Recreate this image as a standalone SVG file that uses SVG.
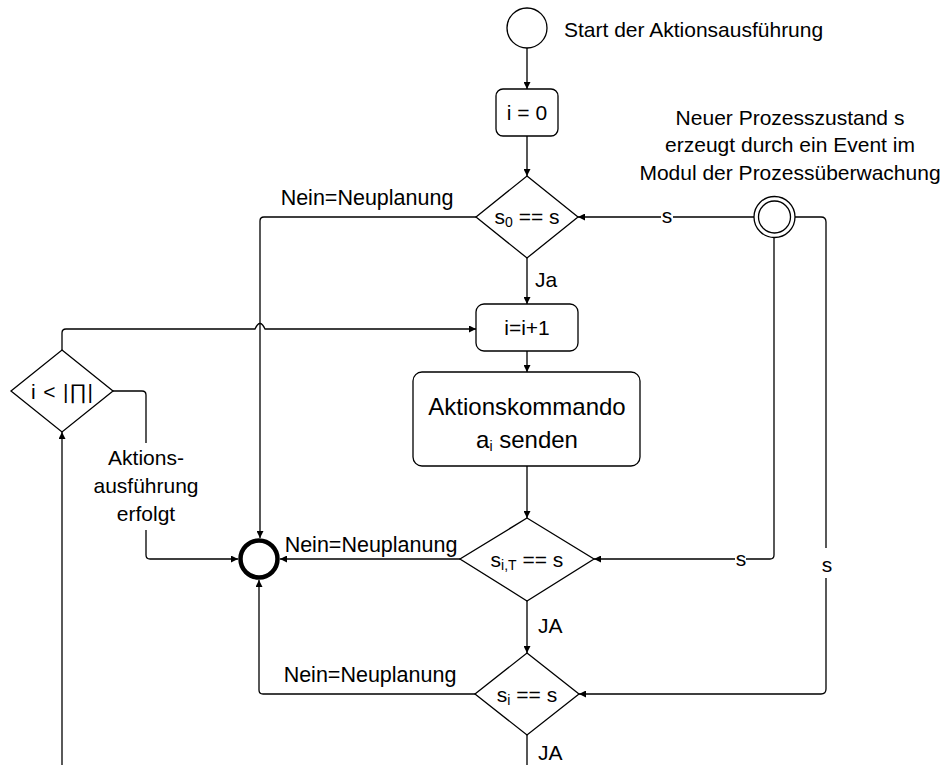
<svg xmlns="http://www.w3.org/2000/svg" width="946" height="765" viewBox="0 0 946 765">
  <defs>
    <marker id="arr" viewBox="0 0 10 10" refX="10" refY="5" markerWidth="7" markerHeight="7" markerUnits="userSpaceOnUse" orient="auto">
      <path d="M0,0 L10,5 L0,10 z" fill="#000"/>
    </marker>
    <style>
      text { font-family: "Liberation Sans", Arial, sans-serif; font-size: 21px; fill: #000; }
      .c { text-anchor: middle; }
      .big { font-size: 24px; }
      .lbl { font-size: 21.5px; }
      .shape { fill: #fff; stroke: #000; stroke-width: 1.3; }
      .line { fill: none; stroke: #000; stroke-width: 1.3; }
      .gray { stroke: #444; stroke-width: 1.8; }
      .sub { font-size: 14px; }
    </style>
  </defs>
  <rect width="946" height="765" fill="#fff"/>

  <!-- connectors -->
  <g id="connectors">
    <path class="line gray" d="M527,48 V89" marker-end="url(#arr)"/>
    <path class="line gray" d="M527,136 V176" marker-end="url(#arr)"/>
    <path class="line gray" d="M527,258 V304" marker-end="url(#arr)"/>
    <path class="line gray" d="M527,351 V372" marker-end="url(#arr)"/>
    <path class="line gray" d="M527,466 V518" marker-end="url(#arr)"/>
    <path class="line gray" d="M527,601 V653" marker-end="url(#arr)"/>
    <path class="line gray" d="M527,735 V765"/>
    <!-- s0 no: to end -->
    <path class="line" d="M476,217 H264 Q260,217 260,221 V538" marker-end="url(#arr)"/>
    <!-- loop back to i=i+1 with jump over vertical -->
    <path class="line" d="M62,350 V333 Q62,329 66,329 H255 Q260,318 265,329 H476" marker-end="url(#arr)"/>
    <!-- i<|Π| exit -->
    <path class="line" d="M113,391 H142 Q146,391 146,395 V443"/>
    <path class="line" d="M146,530 V555 Q146,559 150,559 H238" marker-end="url(#arr)"/>
    <!-- bottom loop up to i<|Π| -->
    <path class="line" d="M62,765 V432" marker-end="url(#arr)"/>
    <!-- s_iT no -->
    <path class="line" d="M460,559 H280" marker-end="url(#arr)"/>
    <!-- s_i no -->
    <path class="line" d="M475,694 H263 Q259,694 259,690 V580" marker-end="url(#arr)"/>
    <!-- event lines -->
    <path class="line" d="M754,217 H673 M661,217 H578" marker-end="url(#arr)"/>
    <path class="line" d="M774,238 V555 Q774,559 770,559 H746 M735,559 H594" marker-end="url(#arr)"/>
    <path class="line" d="M795,217 H821 Q826,217 826,222 V548 M826,578 V689 Q826,694 821,694 H579" marker-end="url(#arr)"/>
  </g>

  <!-- edge labels -->
  <g id="labels">
    <text x="367" y="205" class="c lbl">Nein=Neuplanung</text>
    <text x="535" y="287">Ja</text>
    <text x="371" y="552" class="c lbl">Nein=Neuplanung</text>
    <text x="370" y="682" class="c lbl">Nein=Neuplanung</text>
    <text x="538" y="633">JA</text>
    <text x="538" y="760">JA</text>
    <text x="667" y="223" class="c">s</text>
    <text x="741" y="566" class="c">s</text>
    <text x="827" y="572" class="c">s</text>
    <text x="146" y="465" class="c">Aktions-</text>
    <text x="146" y="493" class="c">ausführung</text>
    <text x="146" y="521" class="c">erfolgt</text>
  </g>

  <!-- nodes -->
  <g id="start">
    <circle cx="527" cy="28" r="20" class="shape"/>
    <text x="564" y="37">Start der Aktionsausführung</text>
  </g>
  <g id="init">
    <rect x="496" y="89" width="62" height="47" rx="7" class="shape"/>
    <text x="527" y="120" class="c">i = 0</text>
  </g>
  <g id="check0">
    <path d="M527,176 L578,217 L527,258 L476,217 z" class="shape"/>
    <text x="527" y="224" class="c">s<tspan class="sub" dy="3">0</tspan><tspan dy="-3"> == s</tspan></text>
  </g>
  <g id="incr">
    <rect x="476" y="304" width="102" height="47" rx="8" class="shape"/>
    <text x="527" y="335" class="c">i=i+1</text>
  </g>
  <g id="command">
    <rect x="413" y="372" width="227" height="94" rx="9" class="shape"/>
    <text x="527" y="415" class="c big">Aktionskommando</text>
    <text x="527" y="448" class="c big">a<tspan class="sub" dy="3">i</tspan><tspan dy="-3"> senden</tspan></text>
  </g>
  <g id="checkT">
    <path d="M527,518 L594,559 L527,601 L460,559 z" class="shape"/>
    <text x="527" y="567" class="c">s<tspan class="sub" dy="3">i,T</tspan><tspan dy="-3"> == s</tspan></text>
  </g>
  <g id="checkI">
    <path d="M527,653 L579,694 L527,735 L475,694 z" class="shape"/>
    <text x="527" y="702" class="c">s<tspan class="sub" dy="3">i</tspan><tspan dy="-3"> == s</tspan></text>
  </g>
  <g id="loopcheck">
    <path d="M62,350 L113,391 L62,432 L11,391 z" class="shape"/>
    <text x="62" y="399" class="c" textLength="62" lengthAdjust="spacing">i &lt; |∏|</text>
  </g>
  <g id="end">
    <circle cx="259" cy="559" r="18.5" fill="#fff" stroke="#000" stroke-width="4.5"/>
  </g>
  <g id="event">
    <circle cx="774.5" cy="217" r="20.5" class="shape"/>
    <circle cx="774.5" cy="217" r="16" class="shape"/>
    <text x="790" y="125" class="c">Neuer Prozesszustand s</text>
    <text x="790" y="152" class="c">erzeugt durch ein Event im</text>
    <text x="790" y="180" class="c">Modul der Prozessüberwachung</text>
  </g>
</svg>
